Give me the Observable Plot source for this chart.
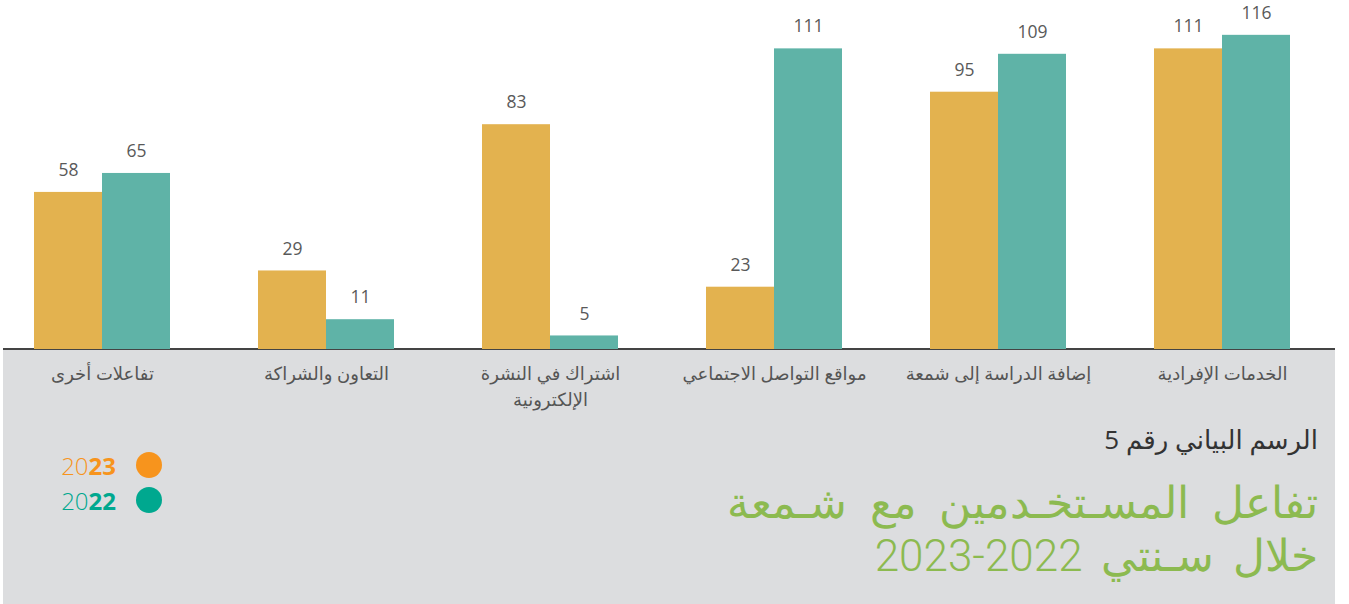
<!DOCTYPE html>
<html><head><meta charset="utf-8">
<script src="https://cdn.jsdelivr.net/npm/d3@7"></script>
<script src="https://cdn.jsdelivr.net/npm/@observablehq/plot@0.6"></script>
<style>
body{margin:0;background:#fff;}
#wrap{position:relative;width:1349px;height:604px;overflow:hidden;font-family:"Open Sans","DejaVu Sans",sans-serif;}
#panel{position:absolute;left:3px;top:348px;width:1332px;height:256px;background:#dcdddf;border-top:2px solid #444;box-sizing:border-box;}
#chart{position:absolute;left:0;top:0;}
#num{position:absolute;right:31px;top:422px;direction:rtl;font-size:26px;line-height:34px;color:#333;white-space:nowrap;}
.tl{position:absolute;right:31px;direction:rtl;font-family:"Roboto","DejaVu Sans",sans-serif;font-size:44px;line-height:50px;color:#8cba50;font-weight:300;text-align:right;white-space:nowrap;}
.leg{position:absolute;left:40px;width:122px;height:28px;display:flex;align-items:center;justify-content:flex-end;font-size:24px;}
.leg span.t{margin-right:20px;font-weight:300;}
.leg span.t b{font-weight:700;}
.leg span.c{width:26px;height:26px;border-radius:50%;display:inline-block;}
</style>
</head><body>
<div id="wrap">
  <div id="panel"></div>
  <div id="chart"></div>
  <div id="num"></div>
  <div id="title"></div>
  <div id="legend"></div>
</div>
<script>
const categories = ["تفاعلات أخرى","التعاون والشراكة","اشتراك في النشرة\nالإلكترونية","مواقع التواصل الاجتماعي","إضافة الدراسة إلى شمعة","الخدمات الإفرادية"];
const years = ["2023","2022"];
const values2023 = [58,29,83,23,95,111];
const values2022 = [65,11,5,111,109,116];
const barColors = ["#e3b24f","#5fb3a7"];
const legendColors = ["#f7941d","#00a88f"];
const chartNumber = "الرسم البياني رقم 5";
const titleLines = ["تفاعل المسـتخـدمين مع شـمعة","خلال سـنتي 2022-2023"];

const data = [];
categories.forEach((c,i)=>{
  data.push({cat:c, year:"2023", value:values2023[i]});
  data.push({cat:c, year:"2022", value:values2022[i]});
});

const plot = Plot.plot({
  width:1349, height:420,
  marginTop:24, marginBottom:71, marginLeft:33, marginRight:59,
  style:{background:"transparent", fontFamily:"'Open Sans','DejaVu Sans',sans-serif"},
  fx:{domain:categories, paddingInner:0.393, paddingOuter:0, label:null},
  x:{domain:years, padding:0, axis:null},
  y:{domain:[0,120], axis:null},
  color:{domain:years, range:barColors},
  marks:[
    Plot.barY(data,{fx:"cat", x:"year", y:"value", fill:"year"}),
    Plot.text(data,{fx:"cat", x:"year", y:"value", text:d=>String(d.value), dy:-22, fontSize:17.5, fill:"#595959"}),
    Plot.axisFx({anchor:"bottom", tickSize:0, tickPadding:13, fontSize:18, fill:"#555", lineAnchor:"top", lineHeight:1.4, label:null})
  ]
});
document.getElementById("chart").appendChild(plot);

document.getElementById("num").textContent = chartNumber;
const tEl = document.getElementById("title");
titleLines.forEach((t,i)=>{
  const d = document.createElement("div");
  d.className = "tl";
  d.style.top = (478 + i*53) + "px";
  d.style.wordSpacing = i === 0 ? "12px" : "8px";
  d.textContent = t;
  tEl.appendChild(d);
});
const leg = document.getElementById("legend");
years.forEach((y,i)=>{
  const d = document.createElement("div");
  d.className = "leg";
  d.style.top = (451 + i*35) + "px";
  d.innerHTML = `<span class="t" style="color:${legendColors[i]}">${y.slice(0,2)}<b>${y.slice(2)}</b></span><span class="c" style="background:${legendColors[i]}"></span>`;
  leg.appendChild(d);
});
</script>
</body></html>
